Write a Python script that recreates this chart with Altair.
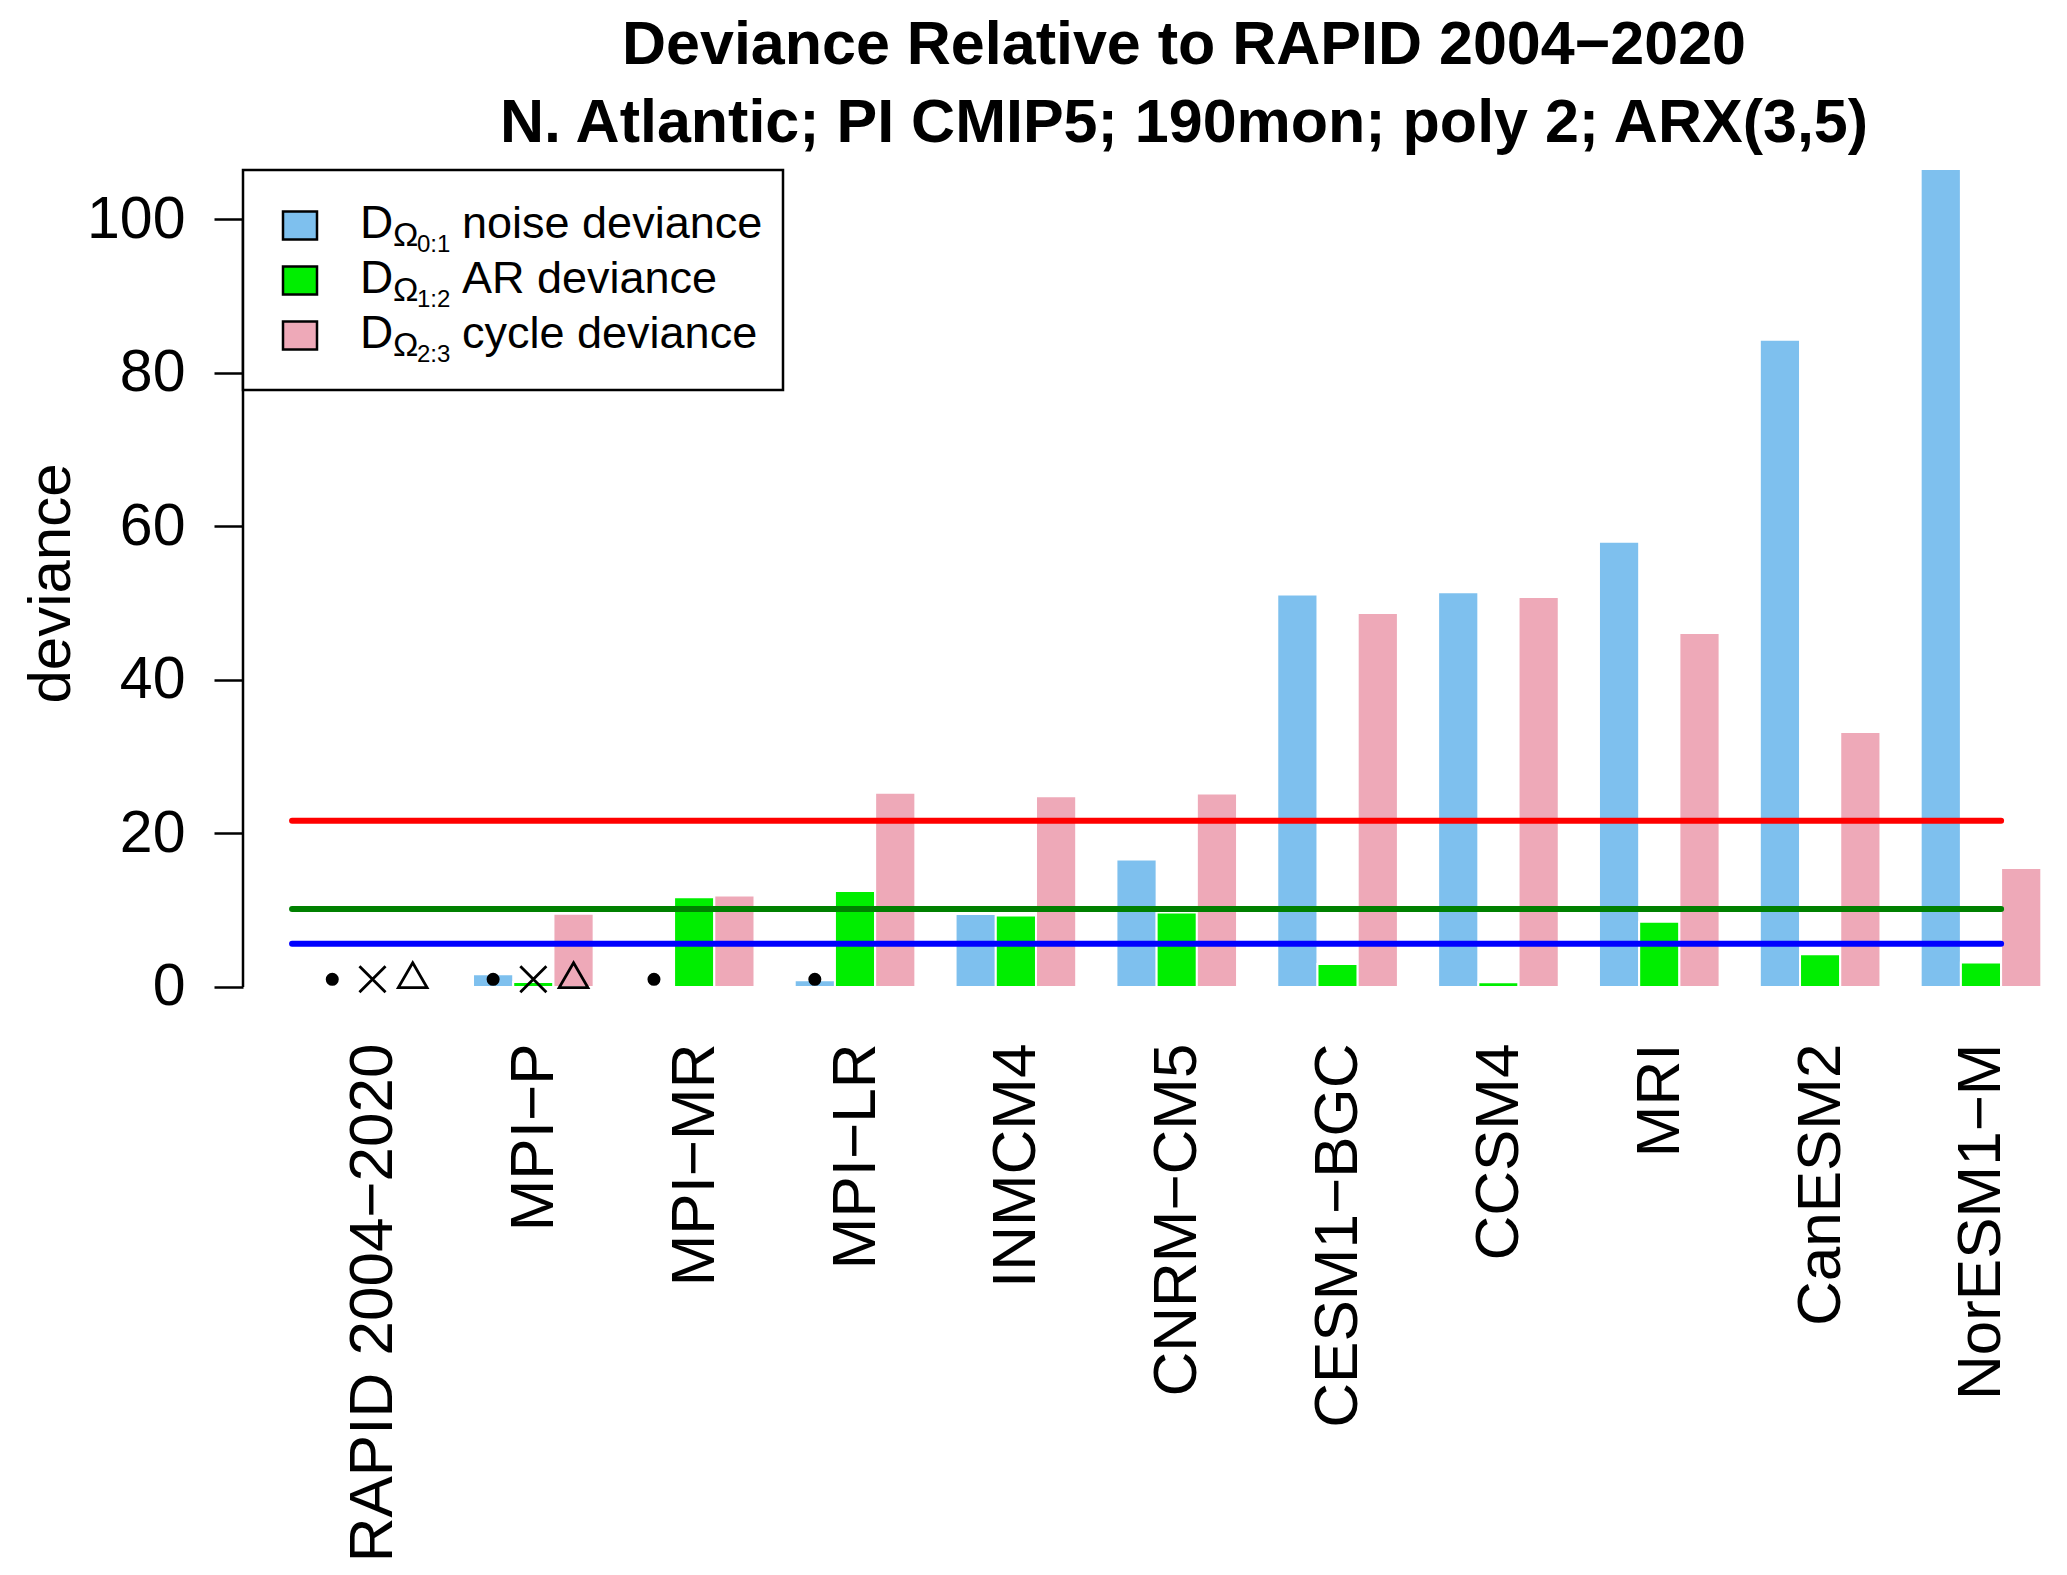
import json
import altair as alt
import pandas as pd

# ---------------- data ----------------
models = ["RAPID 2004\u22122020", "MPI\u2212P", "MPI\u2212MR", "MPI\u2212LR", "INMCM4",
          "CNRM\u2212CM5", "CESM1\u2212BGC", "CCSM4", "MRI", "CanESM2", "NorESM1\u2212M"]
noise = [0.0, 1.65, 0.13, 0.87, 9.5, 16.6, 51.1, 51.4, 58.0, 84.3, 110.0]
ar = [0.0, 0.65, 11.7, 12.5, 9.3, 9.7, 3.0, 0.6, 8.5, 4.25, 3.2]
cycle = [0.0, 9.55, 11.9, 25.3, 24.85, 25.2, 48.7, 50.8, 46.1, 33.2, 15.5]

series_keys = ["0:1", "1:2", "2:3"]
series_names = ["noise deviance", "AR deviance", "cycle deviance"]
series_colors = ["#7EC0EE", "#00EE00", "#EEA9B8"]

threshold_values = [21.65, 10.16, 5.64]
threshold_colors = ["#FF0000", "#008000", "#0000FF"]

marker_models = ["RAPID 2004\u22122020", "RAPID 2004\u22122020", "RAPID 2004\u22122020",
                 "MPI\u2212P", "MPI\u2212P", "MPI\u2212P", "MPI\u2212MR", "MPI\u2212LR"]
marker_series = [0, 1, 2, 0, 1, 2, 0, 0]
marker_kind = ["dot", "x", "tri", "dot", "x", "tri", "dot", "dot"]
marker_y = 1.0

y_ticks = [0, 20, 40, 60, 80, 100]
title_lines = ["Deviance Relative to RAPID 2004\u22122020",
               "N. Atlantic; PI CMIP5; 190mon; poly 2; ARX(3,5)"]

FONT = "Liberation Sans"

# ---------------- tables ----------------
rows = []
for i, m in enumerate(models):
    for j, vals in enumerate([noise, ar, cycle]):
        left = 1 + 4 * i + j
        rows.append({"model": m, "series": series_names[j], "value": vals[i],
                     "left": left, "right": left + 1})
bars_df = pd.DataFrame(rows)

mk = []
for m, s, k in zip(marker_models, marker_series, marker_kind):
    i = models.index(m)
    mk.append({"model": m, "kind": k, "xc": 1.5 + 4 * i + s, "y": marker_y})
mk_df = pd.DataFrame(mk)

thr_df = pd.DataFrame({"value": threshold_values, "color": threshold_colors})

xscale = alt.Scale(domain=[-0.72, 44.44], nice=False, zero=False)
yscale = alt.Scale(domain=[-4.17, 106.4], nice=False, zero=False)

label_expr = json.dumps(models) + "[round((datum.value - 2.5) / 4)]"

xaxis = alt.Axis(values=[2.5 + 4 * i for i in range(len(models))], labelExpr=label_expr,
                 labelAngle=270, labelAlign="right", labelBaseline="middle",
                 labelPadding=24, ticks=False, domain=False, grid=False, title=None,
                 labelFontSize=62, labelFont=FONT, labelColor="black",
                 labelOverlap=False, labelFlush=False, labelLimit=2000)
yaxis = alt.Axis(values=y_ticks, domain=False, grid=False, tickSize=29, tickWidth=2.5,
                 tickColor="black", labelPadding=29, labelFontSize=59, labelFont=FONT,
                 labelColor="black", labelFlush=False, labelOverlap=False,
                 title="deviance", titleFont=FONT, titleFontSize=60, titleFontWeight="normal",
                 titleColor="black", titleAngle=270, titleAlign="center",
                 titleBaseline="alphabetic", titleX=-174, titleY=413)

bars = alt.Chart(bars_df).mark_rect(clip=True, stroke="white", strokeWidth=2).encode(
    x=alt.X("left:Q", scale=xscale, axis=xaxis),
    x2="right:Q",
    y=alt.Y("value:Q", scale=yscale, axis=yaxis),
    y2=alt.datum(0),
    color=alt.Color("series:N", scale=alt.Scale(domain=series_names, range=series_colors),
                    legend=None),
)

yline = alt.Chart(pd.DataFrame({"a": [0]})).mark_rule(color="black", strokeWidth=2.5).encode(
    x=alt.value(0), y=alt.datum(y_ticks[0]), y2=alt.datum(y_ticks[-1]))

thr = alt.Chart(thr_df).mark_rule(strokeWidth=6, strokeCap="round").encode(
    x=alt.datum(0.5), x2=alt.datum(43),
    y=alt.Y("value:Q"),
    color=alt.Color("color:N", scale=None),
)

dots = alt.Chart(mk_df).transform_filter("datum.kind == 'dot'").mark_point(
    shape="circle", filled=True, size=170, color="black", opacity=1).encode(
    x="xc:Q", y="y:Q")
xs = alt.Chart(mk_df).transform_filter("datum.kind == 'x'").mark_point(
    shape="M-1,-1L1,1M-1,1L1,-1", filled=False, size=680, color="black",
    strokeWidth=2.8, opacity=1).encode(x="xc:Q", y="y:Q")
tris = alt.Chart(mk_df).transform_filter("datum.kind == 'tri'").mark_point(
    shape="M0,-1L0.866,0.5L-0.866,0.5Z", filled=False, size=1100, color="black",
    strokeWidth=2.8, opacity=1).encode(x="xc:Q", y="y:Q")

one = pd.DataFrame({"a": [0]})
legend_layers = [
    alt.Chart(one).mark_rect(fill="white", stroke="black", strokeWidth=2.5).encode(
        x=alt.value(0), x2=alt.value(540), y=alt.value(0), y2=alt.value(220))
]
for i, (key, name, col) in enumerate(zip(series_keys, series_names, series_colors)):
    cy = 55.5 + 55 * i
    base = cy + 12
    legend_layers.append(
        alt.Chart(one).mark_rect(fill=col, stroke="black", strokeWidth=2.5).encode(
            x=alt.value(40), x2=alt.value(74), y=alt.value(cy - 14), y2=alt.value(cy + 14)))
    for txt, xx, yy, fs in [("D", 117, base, 46), ("\u03a9", 150, base + 8, 34),
                            (key, 174, base + 14, 24), (name, 219, base, 45)]:
        legend_layers.append(
            alt.Chart(pd.DataFrame({"t": [txt]})).mark_text(
                align="left", baseline="alphabetic", fontSize=fs, font=FONT,
                color="black").encode(text="t:N", x=alt.value(xx), y=alt.value(yy)))

title_layers = []
title_y = [-106, -28]
for k, line in enumerate(title_lines):
    title_layers.append(
        alt.Chart(pd.DataFrame({"t": [line]})).mark_text(
            align="center", baseline="alphabetic", fontSize=61, fontWeight="bold",
            font=FONT, color="black").encode(
            text="t:N", x=alt.value(941), y=alt.value(title_y[k])))

chart = alt.layer(bars, yline, thr, dots, xs, tris, *legend_layers, *title_layers).properties(
    width=1816, height=849,
    padding={"left": 235, "top": 162, "right": 0, "bottom": 548},
    autosize=alt.AutoSizeParams(type="none"),
    background="white",
).configure_view(stroke=None)

chart.save("out.html", embed_options={"renderer": "svg", "actions": False})
